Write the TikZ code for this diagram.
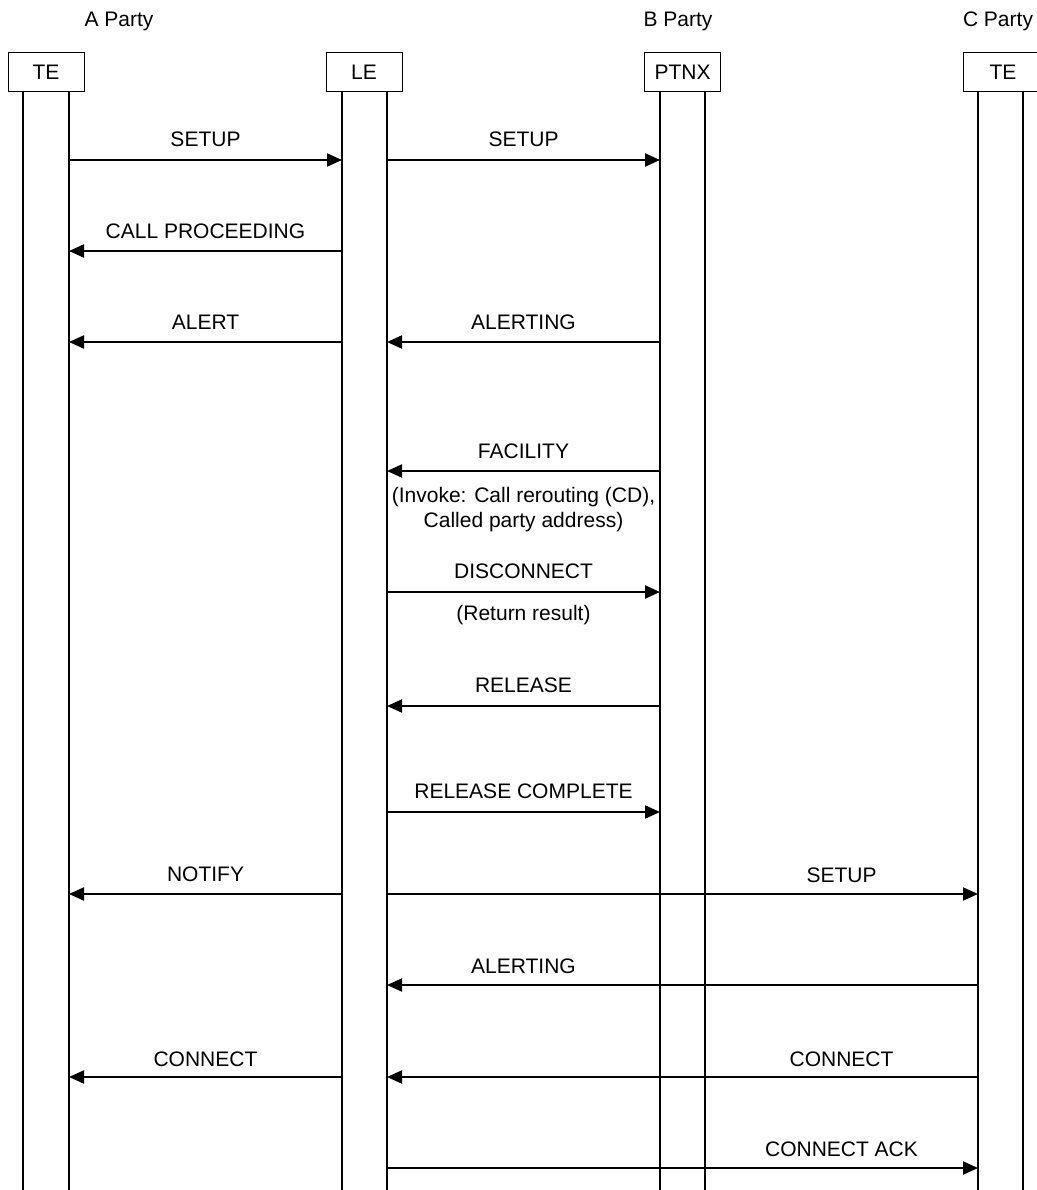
\documentclass[tikz,border=0pt]{standalone}
\usepackage{fontspec}
\setmainfont{Liberation Sans}
\usetikzlibrary{arrows.meta}
\begin{document}
\begin{tikzpicture}[x=1pt,y=-1pt,
  txt/.style={font=\fontsize{21}{25}\selectfont},
  box/.style={draw, line width=1pt, minimum width=76pt, minimum height=39pt, inner sep=0pt, txt},
  life/.style={line width=2pt},
  msg/.style={line width=2pt, -{Triangle[length=15pt,width=13pt]}},
  lbl/.style={txt, anchor=base, inner sep=0pt},
  party/.style={txt, anchor=base, inner sep=0pt}]
\useasboundingbox (0,0) rectangle (1036,1190);
% party labels
\node[party] (pa) at (119,27) {A Party};
\node[party] (pb) at (678,27) {B Party};
\node[party] (pc) at (998,27) {C Party};
% entity boxes
\node[box] (teA) at (46,72.5) {TE};
\node[box] (le) at (364,72.5) {LE};
\node[box] (ptnx) at (682.5,72.5) {PTNX};
\node[box, minimum width=80pt] (teC) at (1003,72.5) {TE};
% lifeline tops
\coordinate (A1) at (23,92);
\coordinate (A2) at (69,92);
\coordinate (L1) at (342,92);
\coordinate (L2) at (387,92);
\coordinate (P1) at (660,92);
\coordinate (P2) at (705,92);
\coordinate (C1) at (978,92);
\coordinate (C2) at (1023,92);
\foreach \c in {A1,A2,L1,L2,P1,P2,C1,C2}
  \draw[life] (\c) -- (\c |- 0,1192);
% messages
\draw[msg] (A2 |- 0,160) -- (L1 |- 0,160);
\node[lbl] (m1) at (205.5,147) {SETUP};
\draw[msg] (L2 |- 0,160) -- (P1 |- 0,160);
\node[lbl] (m2) at (523.5,147) {SETUP};
\draw[msg] (L1 |- 0,251) -- (A2 |- 0,251);
\node[lbl] (m3) at (205.5,238) {CALL PROCEEDING};
\draw[msg] (L1 |- 0,342) -- (A2 |- 0,342);
\node[lbl] (m4) at (205.5,329) {ALERT};
\draw[msg] (P1 |- 0,342) -- (L2 |- 0,342);
\node[lbl] (m5) at (523.5,329) {ALERTING};
\draw[msg] (P1 |- 0,471) -- (L2 |- 0,471);
\node[lbl] (m6) at (523.5,458) {FACILITY};
\node[lbl] (m6a) at (523.5,502) {(Invoke: Call rerouting (CD),};
\node[lbl] (m6b) at (523.5,527) {Called party address)};
\draw[msg] (L2 |- 0,592) -- (P1 |- 0,592);
\node[lbl] (m7) at (523.5,578) {DISCONNECT};
\node[lbl] (m7a) at (523.5,620) {(Return result)};
\draw[msg] (P1 |- 0,706) -- (L2 |- 0,706);
\node[lbl] (m8) at (523.5,692) {RELEASE};
\draw[msg] (L2 |- 0,812) -- (P1 |- 0,812);
\node[lbl] (m9) at (523.5,798) {RELEASE COMPLETE};
\draw[msg] (L1 |- 0,894) -- (A2 |- 0,894);
\node[lbl] (m10) at (205.5,881) {NOTIFY};
\draw[msg] (L2 |- 0,894) -- (C1 |- 0,894);
\node[lbl] (m11) at (841.5,882) {SETUP};
\draw[msg] (C1 |- 0,985) -- (L2 |- 0,985);
\node[lbl] (m12) at (523.5,973) {ALERTING};
\draw[msg] (C1 |- 0,1077) -- (L2 |- 0,1077);
\node[lbl] (m13) at (841.5,1066) {CONNECT};
\draw[msg] (L1 |- 0,1077) -- (A2 |- 0,1077);
\node[lbl] (m14) at (205.5,1066) {CONNECT};
\draw[msg] (L2 |- 0,1168) -- (C1 |- 0,1168);
\node[lbl] (m15) at (841.5,1156) {CONNECT ACK};
\end{tikzpicture}
\end{document}
